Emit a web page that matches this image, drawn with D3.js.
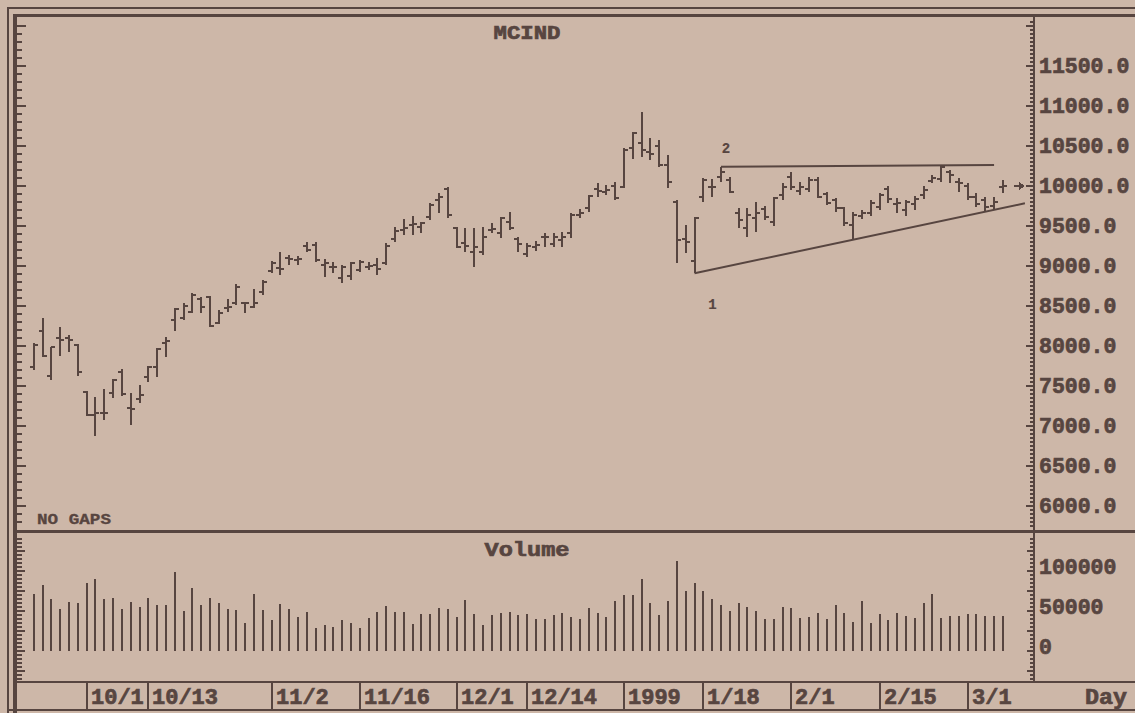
<!DOCTYPE html>
<html>
<head>
<meta charset="utf-8">
<script src="https://cdn.jsdelivr.net/npm/d3@7"></script>
<style>
  body { margin: 0; background: #cdb7a8; }
  svg { display: block; }
  text { font-family: "Liberation Mono", "DejaVu Sans Mono", monospace; font-weight: bold; fill: #574540; stroke: #574540; stroke-width: 0.7px; }
</style>
</head>
<body>
<svg id="chart" width="1135" height="713"></svg>
<script>
// Daily MCIND bars, one entry per trading day (index 0 .. 110)
const opens = [7738, 8184, 7621, 8100, 8092, 8009, 7425, 7134, 7163, 7405, 7675, 7217, 7330, 7604, 7738, 8030,
  8321, 8342, 8425, 8580, 8613, 8288, 8467, 8530, 8530, 8488, 8675, 8938, 8967, 9092, 9071, 9246, 9258, 9008,
  8988, 8842, 8871, 8946, 8979, 9008, 9038, 9329, 9446, 9508, 9479, 9613, 9821, 9954, 9467, 9279, 9175, 9175,
  9446, 9404, 9550, 9329, 9146, 9238, 9354, 9271, 9321, 9404, 9633, 9717, 9954, 9925, 9996, 9979, 10467, 10529,
  10425, 10496, 10258, 9800, 9329, 9060, 9863, 9979, 10113, 10071, 9654, 9467, 9592, 9704, 9550, 9883, 10113,
  9938, 9954, 10071, 9896, 9821, 9717, 9509, 9621, 9654, 9729, 9954, 9771, 9696, 9771, 9883, 10063, 10079,
  10175, 10050, 9996, 9863, 9821, 9746, 9979];
const highs = [8038, 8350, 7988, 8229, 8134, 8021, 7438, 7355, 7459, 7580, 7705, 7405, 7509, 7746, 7967, 8113,
  8467, 8530, 8654, 8613, 8625, 8446, 8580, 8771, 8550, 8705, 8821, 9063, 9175, 9133, 9121, 9300, 9300, 9079,
  9050, 9008, 9050, 9071, 9042, 9092, 9279, 9488, 9579, 9621, 9550, 9779, 9904, 9979, 9488, 9467, 9467, 9479,
  9538, 9613, 9675, 9363, 9288, 9313, 9404, 9413, 9425, 9654, 9704, 9883, 10029, 10008, 10050, 10467, 10675,
  10925, 10592, 10571, 10383, 9821, 9508, 9613, 10092, 10079, 10238, 10104, 9717, 9717, 9800, 9746, 9863, 10038,
  10175, 10050, 10113, 10104, 9925, 9842, 9738, 9675, 9696, 9821, 9913, 9996, 9842, 9821, 9871, 9996, 10134,
  10255, 10196, 10092, 10029, 9913, 9863, 9854, 10071];
const lows = [7696, 7855, 7571, 7871, 7925, 7621, 7121, 6871, 7071, 7342, 7371, 7009, 7280, 7550, 7613, 7863,
  8188, 8321, 8413, 8413, 8238, 8271, 8425, 8509, 8413, 8467, 8634, 8913, 8883, 9008, 9008, 9175, 9050, 8863,
  8904, 8779, 8821, 8925, 8946, 8883, 9008, 9300, 9383, 9383, 9404, 9571, 9654, 9592, 9217, 9175, 8988, 9133,
  9404, 9342, 9446, 9175, 9113, 9188, 9238, 9238, 9238, 9342, 9592, 9675, 9863, 9883, 9821, 9967, 10329, 10363,
  10321, 10238, 9967, 9038, 9154, 8905, 9800, 9863, 10050, 9904, 9467, 9363, 9425, 9571, 9496, 9821, 9946,
  9883, 9925, 9842, 9758, 9675, 9496, 9325, 9579, 9621, 9696, 9779, 9663, 9621, 9696, 9829, 10029, 10050,
  10029, 9925, 9821, 9738, 9688, 9700, 9913];
const closes = [8009, 7871, 7980, 8071, 8071, 7675, 7134, 7155, 7163, 7571, 7396, 7205, 7384, 7730, 7955, 8063,
  8455, 8496, 8634, 8488, 8246, 8405, 8488, 8738, 8530, 8530, 8800, 9029, 8954, 9079, 9088, 9196, 9071, 9029,
  8979, 8988, 9029, 9046, 8996, 8954, 9246, 9438, 9467, 9521, 9538, 9758, 9863, 9633, 9238, 9246, 9238, 9363,
  9454, 9592, 9467, 9271, 9246, 9258, 9363, 9363, 9354, 9633, 9654, 9871, 9938, 9946, 9842, 10446, 10654, 10446,
  10396, 10258, 10046, 9321, 9300, 9600, 10071, 9979, 10175, 9925, 9571, 9633, 9654, 9613, 9842, 9979, 9979,
  9979, 10071, 9863, 9788, 9717, 9538, 9633, 9654, 9779, 9883, 9829, 9779, 9800, 9829, 9946, 10092, 10238,
  10133, 10029, 9863, 9771, 9729, 9800, 9996];
const volumes = [71600, 82000, 64500, 52000, 61600, 59500, 84500, 89500, 65400, 66600, 52500, 61600, 55000,
  66600, 57000, 57000, 99100, 50000, 79100, 57000, 66600, 59500, 52000, 51600, 34500, 71600, 51600, 39100,
  59100, 52000, 42500, 49100, 29100, 32000, 30000, 39100, 34500, 29100, 41600, 49100, 56200, 49100, 49100,
  34100, 46600, 46600, 54100, 52000, 42500, 64100, 46600, 32500, 44500, 47900, 49100, 45000, 45800, 39500,
  39500, 45000, 47900, 42500, 39500, 54100, 47000, 42500, 62500, 70000, 70000, 90400, 60400, 45000, 62500,
  112500, 75000, 84500, 75000, 65400, 57500, 50000, 60400, 55000, 50000, 39500, 40400, 55000, 53300, 41600,
  42500, 47900, 40400, 57500, 47900, 36600, 62500, 35400, 45800, 38300, 47900, 43700, 41600, 60400, 70800,
  40800, 43700, 43700, 45800, 46600, 43700, 43700, 43700];

// Date labels on the bottom strip and the bar index each one starts at
const dateLabels = ['10/1', '10/13', '11/2', '11/16', '12/1', '12/14', '1999', '1/18', '2/1', '2/15', '3/1'];
const dateIndex = [6, 13, 27, 37, 48, 56, 67, 76, 86, 96, 106];

// Axis tick labels
const priceTicks = [6000, 6500, 7000, 7500, 8000, 8500, 9000, 9500, 10000, 10500, 11000, 11500];
const volumeTicks = [0, 50000, 100000];

// Hand drawn trend lines: [bar index, price]
const supportLine = [[75, 8905], [112.5, 9780]];
const resistanceLine = [[78, 10238], [109, 10258]];

const WIDTH = 1135, HEIGHT = 713;
const INK = '#574540';
const PRICE_TOP = 17, PRICE_BOTTOM = 530, VOL_TOP = 532, VOL_BOTTOM = 681;
const LEFT = 17, RIGHT = 1034;

const svg = d3.select('#chart');

const x = d3.scaleLinear().domain([0, 110]).range([33.8, 1002.9]);
const y = d3.scaleLinear().domain([6000, 11500]).range([505.7, 65.7]);
const yVol = d3.scaleLinear().domain([0, 100000]).range([651, 571]);

const g = svg.append('g')
  .attr('stroke', INK)
  .attr('shape-rendering', 'crispEdges');

// Frame: outer thin border, inner heavy border, panel separators
function hline(y0, x0, x1, w) {
  g.append('line').attr('x1', x0).attr('x2', x1).attr('y1', y0).attr('y2', y0).attr('stroke-width', w);
}
function vline(x0, y0, y1, w) {
  g.append('line').attr('x1', x0).attr('x2', x0).attr('y1', y0).attr('y2', y1).attr('stroke-width', w);
}
hline(8, 7, WIDTH, 2);
vline(8, 7, HEIGHT, 2);
hline(15.5, 13, WIDTH, 3);
vline(15, 14, HEIGHT, 4);
hline(531, 13, WIDTH, 3);
hline(682, 13, WIDTH, 2.5);
hline(710, 7, WIDTH, 2.5);
vline(RIGHT, 15, 682, 2);

// Left and right tick marks for the price panel
const [pLo, pHi] = [y.invert(PRICE_BOTTOM - 2), y.invert(PRICE_TOP + 2)];
d3.range(Math.ceil(pLo / 100) * 100, pHi, 100).forEach(v => {
  const major = v % 500 === 0;
  g.append('line').attr('x1', LEFT).attr('x2', LEFT + (major ? 9 : 5))
    .attr('y1', Math.round(y(v))).attr('y2', Math.round(y(v))).attr('stroke-width', 2);
});
d3.range(Math.ceil(pLo / 50) * 50, pHi, 50).forEach(v => {
  const major = v % 500 === 0;
  g.append('line').attr('x1', RIGHT - (major ? 8 : 4)).attr('x2', RIGHT)
    .attr('y1', Math.round(y(v))).attr('y2', Math.round(y(v))).attr('stroke-width', major ? 2 : 1.5);
});

// Tick marks for the volume panel
const [vLo, vHi] = [yVol.invert(VOL_BOTTOM - 1), yVol.invert(VOL_TOP + 4)];
d3.range(Math.ceil(vLo / 5000) * 5000, vHi, 5000).forEach(v => {
  const major = v % 25000 === 0;
  g.append('line').attr('x1', LEFT).attr('x2', LEFT + (major ? 8 : 5))
    .attr('y1', Math.round(yVol(v))).attr('y2', Math.round(yVol(v))).attr('stroke-width', 1.5);
  g.append('line').attr('x1', RIGHT - (major ? 7 : 4)).attr('x2', RIGHT)
    .attr('y1', Math.round(yVol(v))).attr('y2', Math.round(yVol(v))).attr('stroke-width', 1.5);
});

// OHLC bars
const bars = g.append('g').attr('stroke-width', 2);
const idx = d3.range(opens.length);
bars.selectAll('.hl').data(idx).enter().append('line')
  .attr('x1', i => Math.round(x(i))).attr('x2', i => Math.round(x(i)))
  .attr('y1', i => y(highs[i])).attr('y2', i => y(lows[i]));
bars.selectAll('.op').data(idx).enter().append('line')
  .attr('x1', i => Math.round(x(i)) - 4).attr('x2', i => Math.round(x(i)))
  .attr('y1', i => Math.round(y(opens[i]))).attr('y2', i => Math.round(y(opens[i])));
bars.selectAll('.cl').data(idx).enter().append('line')
  .attr('x1', i => Math.round(x(i))).attr('x2', i => Math.round(x(i)) + 4)
  .attr('y1', i => Math.round(y(closes[i]))).attr('y2', i => Math.round(y(closes[i])));

// Last price marker
const last = closes.length - 1;
g.append('line')
  .attr('x1', x(last) + 11).attr('x2', x(last) + 19)
  .attr('y1', Math.round(y(closes[last]))).attr('y2', Math.round(y(closes[last])))
  .attr('stroke-width', 2);
g.append('path')
  .attr('d', `M${x(last) + 17},${y(closes[last]) - 3}L${x(last) + 21},${y(closes[last])}L${x(last) + 17},${y(closes[last]) + 3}Z`)
  .attr('fill', INK).attr('stroke-width', 1);

// Trend lines
const trend = d3.line().x(d => x(d[0])).y(d => y(d[1]));
[supportLine, resistanceLine].forEach(l => {
  g.append('path').attr('d', trend(l)).attr('fill', 'none').attr('stroke-width', 2)
    .attr('shape-rendering', 'auto');
});

// Volume bars
g.append('g').attr('stroke-width', 2)
  .selectAll('line').data(idx).enter().append('line')
  .attr('x1', i => Math.round(x(i))).attr('x2', i => Math.round(x(i)))
  .attr('y1', yVol(0)).attr('y2', i => yVol(volumes[i]));

// Date strip separators
g.selectAll('.sep').data(dateIndex).enter().append('line')
  .attr('x1', i => Math.round(x(i))).attr('x2', i => Math.round(x(i)))
  .attr('y1', 682).attr('y2', 710).attr('stroke-width', 2);

// Texts
svg.append('text').attr('x', 527).attr('y', 39).attr('text-anchor', 'middle')
  .attr('font-size', 20).attr('textLength', 67).attr('lengthAdjust', 'spacingAndGlyphs').text('MCIND');
svg.append('text').attr('x', 527).attr('y', 556).attr('text-anchor', 'middle')
  .attr('font-size', 21).attr('textLength', 85).attr('lengthAdjust', 'spacingAndGlyphs').text('Volume');
svg.append('text').attr('x', 37).attr('y', 524)
  .attr('font-size', 14).attr('textLength', 74).attr('lengthAdjust', 'spacingAndGlyphs')
  .style('stroke-width', '0.3px').text('NO GAPS');

svg.selectAll('.ptick').data(priceTicks).enter().append('text')
  .attr('x', 1039).attr('y', d => y(d) + 7)
  .attr('font-size', 21.5).text(d => d.toFixed(1));

svg.selectAll('.vtick').data(volumeTicks).enter().append('text')
  .attr('x', 1039).attr('y', d => yVol(d) + 3)
  .attr('font-size', 21.5).text(d => d);

svg.selectAll('.date').data(dateLabels).enter().append('text')
  .attr('x', (d, i) => Math.round(x(dateIndex[i])) + 4).attr('y', 704)
  .attr('font-size', 22).text(d => d);
svg.append('text').attr('x', 1085).attr('y', 704)
  .attr('font-size', 22).attr('textLength', 42).attr('lengthAdjust', 'spacingAndGlyphs').text('Day');

// Trend point labels
svg.append('text').attr('x', x(supportLine[0][0]) + 18).attr('y', y(supportLine[0][1]) + 36)
  .attr('text-anchor', 'middle').attr('font-size', 14).attr('font-weight', 'normal')
  .style('stroke-width', '0.2px').text('1');
svg.append('text').attr('x', x(resistanceLine[0][0]) + 5).attr('y', y(resistanceLine[0][1]) - 14)
  .attr('text-anchor', 'middle').attr('font-size', 14).attr('font-weight', 'normal')
  .style('stroke-width', '0.2px').text('2');
</script>
</body>
</html>
